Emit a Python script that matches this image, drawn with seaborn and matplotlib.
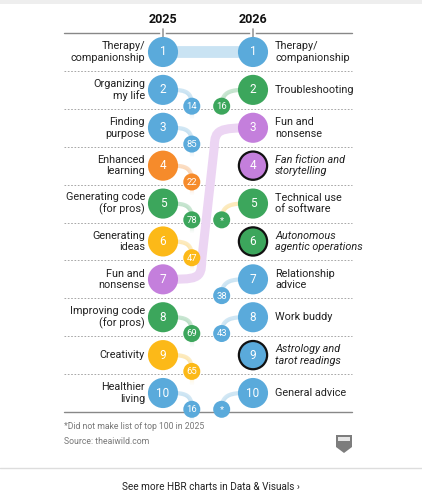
import numpy as np
import pandas as pd
import matplotlib
matplotlib.use("Agg")
import matplotlib.pyplot as plt
import seaborn as sns
from matplotlib.collections import LineCollection
from matplotlib.path import Path
from matplotlib.patches import PathPatch, Polygon
from matplotlib.colors import to_rgb

# ---------------------------------------------------------
# data
# ---------------------------------------------------------
ranks = list(range(1, 11))

labels_2025 = ["Therapy/\ncompanionship", "Organizing\nmy life", "Finding\npurpose",
               "Enhanced\nlearning", "Generating code\n(for pros)", "Generating\nideas",
               "Fun and\nnonsense", "Improving code\n(for pros)", "Creativity",
               "Healthier\nliving"]
group_2025 = ["Support", "Support", "Support", "Learning", "Technical", "Content",
              "Fun", "Technical", "Content", "Support"]
rank_in_2026 = ["1", "14", "85", "22", "78", "47", "3", "69", "65", "16"]

labels_2026 = ["Therapy/\ncompanionship", "Troubleshooting", "Fun and\nnonsense",
               "Fan fiction and\nstorytelling", "Technical use\nof software",
               "Autonomous\nagentic operations", "Relationship\nadvice", "Work buddy",
               "Astrology and\ntarot readings", "General advice"]
group_2026 = ["Support", "Technical", "Fun", "Fun", "Technical", "Technical",
              "Support", "Support", "Support", "Support"]
rank_in_2025 = ["1", "16", "7", "", "*", "", "38", "43", "", "*"]
new_2026 = [False, False, False, True, False, True, False, False, True, False]
# colour of the faint connector (row 5 is drawn yellow in the original)
link_group_2026 = ["Support", "Technical", "Fun", "Fun", "Content", "Technical",
                   "Support", "Support", "Support", "Support"]

palette = {"Support": "#5aaadb", "Technical": "#3ca65c", "Learning": "#f68b2b",
           "Content": "#fcb918", "Fun": "#c47fdc"}

# ---------------------------------------------------------
# helpers
# ---------------------------------------------------------
X0, PX_X, Y0, PX_Y = 163, 90.0, 52, 37.89


def dx(px):
    return (px - X0) / PX_X


def dy(py):
    return 1 + (py - Y0) / PX_Y


def light(c, k):
    r, g, b = to_rgb(c)
    return (1 - k * (1 - r), 1 - k * (1 - g), 1 - k * (1 - b))


def bezier(p0, p1, p2, p3, n=40):
    t = np.linspace(0, 1, n)[:, None]
    p0, p1, p2, p3 = map(np.array, (p0, p1, p2, p3))
    return (1 - t) ** 3 * p0 + 3 * (1 - t) ** 2 * t * p1 + 3 * (1 - t) * t ** 2 * p2 + t ** 3 * p3


def fade_line(ax, pts, color, a_start, a_end, lw=3.0, z=3):
    segs = np.stack([pts[:-1], pts[1:]], axis=1)
    alphas = np.linspace(a_start, a_end, len(segs))
    r, g, b = to_rgb(color)
    cols = [(r, g, b, a) for a in alphas]
    ax.add_collection(LineCollection(segs, colors=cols, linewidths=lw,
                                     capstyle="butt", zorder=z))


sns.set_style("white")
plt.rcParams["font.family"] = ["Roboto", "DejaVu Sans"]

fig = plt.figure(figsize=(4.22, 5.04), dpi=100)
ax = fig.add_axes([0, 0, 1, 1])

# ---------------------------------------------------------
# big circles
# ---------------------------------------------------------
left = pd.DataFrame({"x": 0.0, "rank": ranks, "group": group_2025})
right = pd.DataFrame({"x": 1.0, "rank": ranks, "group": group_2026, "new": new_2026})

BIG = 470
sns.scatterplot(data=left, x="x", y="rank", hue="group", palette=palette, s=BIG,
                linewidth=0, legend=False, ax=ax, zorder=5)
sns.scatterplot(data=right[~right["new"]], x="x", y="rank", hue="group", palette=palette,
                s=BIG, linewidth=0, legend=False, ax=ax, zorder=5)
sns.scatterplot(data=right[right["new"]], x="x", y="rank", hue="group", palette=palette,
                s=BIG * 0.88, edgecolor="#111111", linewidth=1.6, legend=False, ax=ax, zorder=5)

for r in ranks:
    ax.text(0, r, str(r), color="white", ha="center", va="center", fontsize=8.5, zorder=6)
    ax.text(1, r, str(r), color="white", ha="center", va="center", fontsize=8.5, zorder=6)

# ---------------------------------------------------------
# links and small circles
# ---------------------------------------------------------
SX_L, SX_R, SY = 0.32, 0.652, 0.43
small_rows = []

for i, r in enumerate(ranks):
    g = group_2025[i]
    nxt = rank_in_2026[i]
    if nxt.isdigit() and int(nxt) <= 10:
        r1 = int(nxt)
        col = light(palette[g], 0.33)
        if r1 == r:
            ax.plot([0, 1], [r, r], color=col, lw=8.5, solid_capstyle="butt", zorder=2)
        else:
            s = np.sign(r1 - r)
            verts = [(0, r), (0.38, r), (0.43, r), (0.43, r + 0.5 * s),
                     (0.57, r1 - 0.5 * s),
                     (0.575, r1 - 0.05 * s), (0.62, r1), (1, r1)]
            codes = [Path.MOVETO, Path.CURVE4, Path.CURVE4, Path.CURVE4,
                     Path.LINETO, Path.CURVE4, Path.CURVE4, Path.CURVE4]
            ax.add_patch(PathPatch(Path(verts, codes), fill=False, edgecolor=col,
                                   lw=6.5, capstyle="butt", zorder=2))
    else:
        pts = bezier((0.1, r), (0.28, r), (SX_L, r + 0.1), (SX_L, r + SY))
        fade_line(ax, pts, palette[g], 0.3, 0.34)
        tail = bezier((SX_L, r + SY), (SX_L, r + 0.55), (SX_L, r + 0.65), (SX_L, r + 0.8), 20)
        fade_line(ax, tail, palette[g], 0.32, 0.0)
        small_rows.append({"x": SX_L, "y": r + SY, "group": g, "label": nxt})

for i, r in enumerate(ranks):
    prv = rank_in_2025[i]
    if prv == "" or (prv.isdigit() and int(prv) <= 10):
        continue
    g = group_2026[i]
    lg = link_group_2026[i]
    pts = bezier((SX_R, r + SY), (SX_R, r + 0.1), (0.72, r), (0.9, r))
    fade_line(ax, pts, palette[lg], 0.32, 0.3)
    tail = bezier((SX_R, r + SY), (SX_R, r + 0.5), (SX_R, r + 0.55), (SX_R, r + 0.65), 10)
    fade_line(ax, tail, palette[lg], 0.2, 0.0)
    small_rows.append({"x": SX_R, "y": r + SY, "group": g, "label": prv})

small = pd.DataFrame(small_rows)
sns.scatterplot(data=small, x="x", y="y", hue="group", palette=palette, s=150,
                linewidth=0, legend=False, ax=ax, zorder=4)
for _, row in small.iterrows():
    ax.text(row["x"], row["y"] + 0.01, row["label"], color="white", ha="center",
            va="center", fontsize=6.8, zorder=6)

# ---------------------------------------------------------
# row labels
# ---------------------------------------------------------
for i, r in enumerate(ranks):
    ax.text(dx(145), r, labels_2025[i], ha="right", va="center", fontsize=7.8,
            color="#222222", linespacing=1.2, zorder=6)
    ax.text(dx(275), r, labels_2026[i], ha="left", va="center", fontsize=7.8,
            color="#222222", linespacing=1.2, zorder=6,
            style="italic" if new_2026[i] else "normal")

# ---------------------------------------------------------
# grid lines, header
# ---------------------------------------------------------
xl, xr = dx(64), dx(352)
for k in range(0, 11):
    yv = k + 0.5
    if k in (0, 10):
        ax.plot([xl, xr], [yv, yv], color="#888888", lw=1.0, zorder=1)
    else:
        ax.plot([xl, xr], [yv, yv], color="#999999", lw=0.6, ls=(0, (2, 2)), zorder=1)

for xv, yr in zip([0, 1], ["2025", "2026"]):
    ax.plot([xv, xv], [0.36, 0.64], color="white", lw=4, zorder=1.5)
    ax.plot([xv, xv], [0.38, 0.62], color="#999999", lw=1.2, zorder=1.6)
    ax.text(xv, dy(20), yr, ha="center", va="center", fontsize=9, fontweight="bold",
            color="#111111", zorder=6)

# ---------------------------------------------------------
# footer and page chrome
# ---------------------------------------------------------
ax.fill_between([dx(0), dx(422)], dy(0), dy(4), color="#eeeeee", lw=0, zorder=0)
ax.plot([dx(0), dx(422)], [dy(468), dy(468)], color="#dddddd", lw=1.0, zorder=0)

ax.text(dx(64), dy(427), "*Did not make list of top 100 in 2025", ha="left", va="center",
        fontsize=6.2, color="#777777")
ax.text(dx(64), dy(441), "Source: theaiwild.com", ha="left", va="center",
        fontsize=6.2, color="#777777")
ax.text(dx(211), dy(487), "See more HBR charts in Data & Visuals \u203a", ha="center",
        va="center", fontsize=7.2, color="#222222")

shield = [(336, 435), (352, 435), (352, 447), (344, 453), (336, 447)]
ax.add_patch(Polygon([(dx(a), dy(b)) for a, b in shield], closed=True,
                     facecolor="#7d7d7d", edgecolor="none", zorder=2))
ax.add_patch(Polygon([(dx(a), dy(b)) for a, b in [(338, 437), (350, 437), (350, 441), (338, 441)]],
                     closed=True, facecolor="#e5e5e5", edgecolor="none", zorder=3))

ax.set_xlim(dx(0), dx(422))
ax.set_ylim(dy(504), dy(0))
ax.axis("off")

fig.savefig("out.png", dpi=100, facecolor="white")
